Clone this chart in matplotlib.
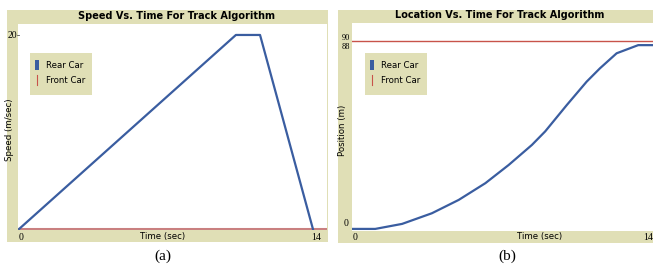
import matplotlib
matplotlib.use("Agg")
import matplotlib.pyplot as plt
from matplotlib.patches import Rectangle
from matplotlib.lines import Line2D

W, H = 653, 269

# data
speed_t = [0, 10.33, 11.48, 14.0]
speed_rear = [0, 20, 20, 0]
speed_front = 0

pos_t = [0, 1.1, 2.37, 3.78, 5.05, 6.31, 7.41, 8.51, 9.14, 10.16, 11.1, 11.73, 12.52, 13.54, 14.3]
pos_rear = [0, 0, 2.4, 7.5, 13.9, 21.9, 30.6, 40.2, 46.7, 59.3, 70.5, 76.9, 84.1, 88, 88]
pos_front = 90

BEIGE = '#e0dfb6'
BLUE = '#3a5da0'
RED_A = '#c98080'
RED_B = '#c8534a'


def px_rect(x0, y0, x1, y1):
    # pixel box (top-left origin) -> figure fraction rect
    return [x0 / W, 1 - y1 / H, (x1 - x0) / W, (y1 - y0) / H]


def ftext(x, y, s, **kw):
    fig.text(x / W, 1 - y / H, s, **kw)


def fbox(x0, y0, x1, y1, color, z):
    r = px_rect(x0, y0, x1, y1)
    fig.patches.append(Rectangle((r[0], r[1]), r[2], r[3], transform=fig.transFigure,
                                 facecolor=color, edgecolor='none', zorder=z))


fig = plt.figure(figsize=(W / 100, H / 100), dpi=100)

# beige frames
fbox(7, 10, 328, 242, BEIGE, -2)
fbox(338, 10, 653, 243, BEIGE, -2)

# (a) speed
ax1 = fig.add_axes(px_rect(18, 24, 327, 230))
ax1.plot(speed_t, speed_rear, color=BLUE, lw=1.6, zorder=3)
ax1.axhline(speed_front, color=RED_A, lw=2.2, zorder=2)
ax1.set_xlim(-0.05, 14.67)
ax1.set_ylim(-0.1, 21.13)

# (b) position
ax2 = fig.add_axes(px_rect(352, 23, 653, 231))
ax2.plot(pos_t, pos_rear, color=BLUE, lw=1.6, zorder=3)
ax2.axhline(pos_front, color=RED_B, lw=1.0, zorder=2)
ax2.set_xlim(0, 14.24)
ax2.set_ylim(-1, 98.6)

for ax in (ax1, ax2):
    ax.set_zorder(1)
    ax.set_xticks([])
    ax.set_yticks([])
    for s in ax.spines.values():
        s.set_visible(False)
    ax.set_facecolor('white')

tfont = dict(fontsize=7, fontweight='bold', family='DejaVu Sans', ha='center', va='center')
ftext(176, 16, 'Speed Vs. Time For Track Algorithm', **tfont)
ftext(500, 15, 'Location Vs. Time For Track Algorithm', **tfont)

sfont = dict(fontsize=6.2, family='DejaVu Sans', va='center')
ftext(10, 130, 'Speed (m/sec)', rotation=90, ha='center', **sfont)
ftext(343, 130, 'Position (m)', rotation=90, ha='center', **sfont)
ftext(163, 236, 'Time (sec)', ha='center', **sfont)
ftext(540, 237, 'Time (sec)', ha='center', **sfont)

nfont = dict(fontsize=7, family='Liberation Serif', va='center')
ftext(19, 238, '0', ha='left', **nfont)
ftext(316, 238, '14', ha='center', **nfont)
ftext(353, 237, '0', ha='left', **nfont)
ftext(648, 237, '14', ha='center', **nfont)
ftext(17, 35, '20', ha='right', **nfont)
ftext(350, 38, '90', ha='right', fontsize=6, family='Liberation Serif', va='center')
ftext(350, 47, '88', ha='right', fontsize=6, family='Liberation Serif', va='center')
ftext(349, 223, '0', ha='right', **nfont)
fig.add_artist(Line2D([17 / W, 19 / W], [1 - 35 / H, 1 - 35 / H], color='#555555', lw=0.6))

# legends
for lx in (30, 365):
    fbox(lx, 53, lx + 62, 95, BEIGE, 5)
    fbox(lx + 5, 60, lx + 9, 70, BLUE, 6)
    fig.add_artist(Line2D([(lx + 7) / W] * 2, [1 - 75 / H, 1 - 85 / H], color=RED_B, lw=0.8, zorder=6))
    ftext(lx + 16, 65, 'Rear Car', ha='left', zorder=7, **sfont)
    ftext(lx + 16, 80, 'Front Car', ha='left', zorder=7, **sfont)

cfont = dict(fontsize=11, family='Liberation Serif', ha='center', va='center')
ftext(163, 256, '(a)', **cfont)
ftext(507, 256, '(b)', **cfont)

fig.savefig('out.png', dpi=100)
